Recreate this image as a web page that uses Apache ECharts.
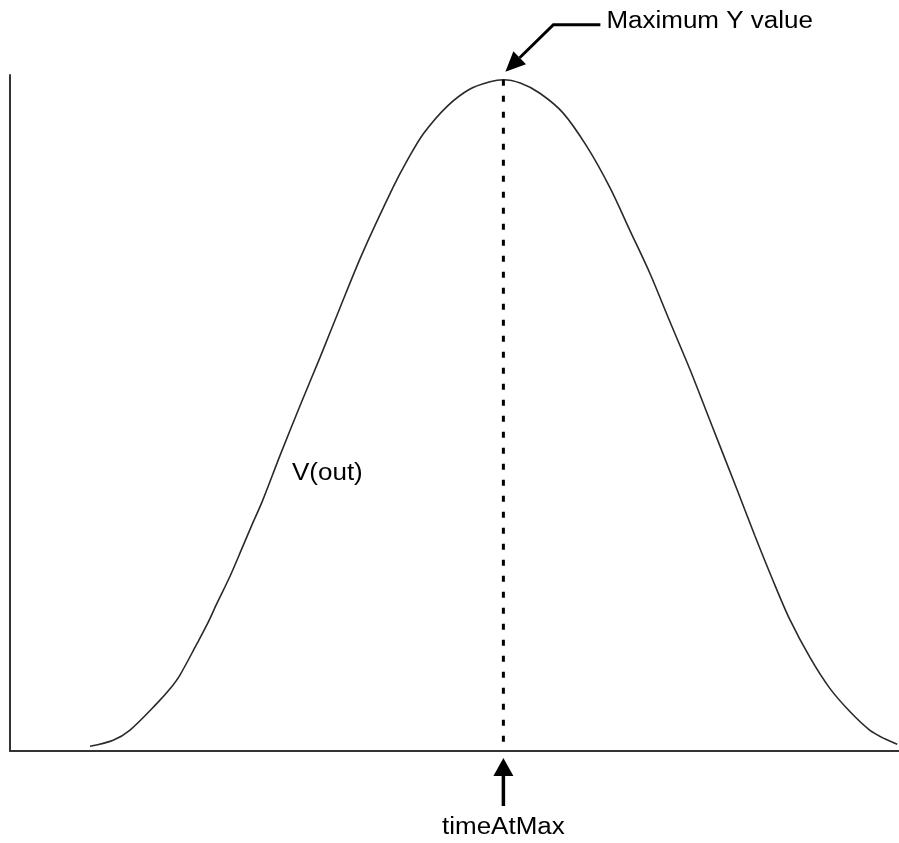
<!DOCTYPE html>
<html>
<head>
<meta charset="utf-8">
<title>V(out) timeAtMax</title>
<script src="https://cdn.jsdelivr.net/npm/echarts@6/dist/echarts.min.js"></script>
<style>
html, body { margin: 0; padding: 0; background: #fff; }
#chart { width: 899px; height: 843px; }
</style>
</head>
<body>
<div id="chart"></div>
<script>
// curve (time and V(out) in plot units 0..10)
var timeVals = [0.90, 1.16, 1.35, 1.65, 1.80, 1.91, 2.10, 2.22, 2.33, 2.48, 2.62, 2.73, 2.84, 3.04, 3.26,
  3.49, 3.71, 3.96, 4.31, 4.47, 4.65, 4.92, 5.17, 5.40, 5.55, 5.74, 5.96, 6.22, 6.49, 6.75,
  6.97, 7.20, 7.42, 7.65, 7.87, 8.18, 8.38, 8.58, 8.77, 9.00, 9.22, 9.45, 9.67, 9.84, 9.98];
var voutVals = [0.07, 0.16, 0.31, 0.70, 0.92, 1.12, 1.58, 1.88, 2.19, 2.60, 3.03, 3.37, 3.70, 4.38, 5.10,
  5.83, 6.55, 7.35, 8.34, 8.74, 9.13, 9.54, 9.79, 9.90, 9.93, 9.88, 9.73, 9.44, 8.94, 8.33,
  7.71, 7.06, 6.36, 5.64, 4.90, 3.86, 3.18, 2.53, 1.95, 1.38, 0.93, 0.58, 0.31, 0.18, 0.10];
var curveName = 'V(out)';
var maxLabel = 'Maximum Y value';
var timeLabel = 'timeAtMax';

var peakIdx = voutVals.indexOf(Math.max.apply(null, voutVals));
var peakTime = timeVals[peakIdx];
var peakV = voutVals[peakIdx];

var chart = echarts.init(document.getElementById('chart'));
var font = 'Liberation Sans, Arial, sans-serif';

chart.setOption({
  backgroundColor: '#fff',
  animation: false,
  grid: { left: 10, right: 0, top: 75, bottom: 92 },
  xAxis: {
    type: 'value', min: 0, max: 10,
    axisLine: { show: true, onZero: false, lineStyle: { color: '#333', width: 2 } },
    axisTick: { show: false }, axisLabel: { show: false }, splitLine: { show: false }
  },
  yAxis: {
    type: 'value', min: 0, max: 10,
    axisLine: { show: true, onZero: false, lineStyle: { color: '#333', width: 2 } },
    axisTick: { show: false }, axisLabel: { show: false }, splitLine: { show: false }
  },
  series: [
    {
      name: curveName,
      type: 'line',
      smooth: 0.3,
      showSymbol: false,
      lineStyle: { color: '#2a2a2a', width: 1.6 },
      data: timeVals.map(function (t, i) { return [t, voutVals[i]]; })
    },
    {
      name: 'peak',
      type: 'line',
      showSymbol: false,
      lineStyle: { color: '#000', width: 3, type: [6, 10] },
      data: [[peakTime, peakV], [peakTime, 0]]
    }
  ]
});

var peakPx = chart.convertToPixel({ gridIndex: 0 }, [peakTime, peakV]);
var basePx = chart.convertToPixel({ gridIndex: 0 }, [peakTime, 0]);

// top arrow: elbow line pointing down-left at the peak
var tip = [peakPx[0] + 2, peakPx[1] - 8];
var elbow = [tip[0] + 48, tip[1] - 47];
var dx = tip[0] - elbow[0], dy = tip[1] - elbow[1];
var len = Math.sqrt(dx * dx + dy * dy);
var ux = dx / len, uy = dy / len;
var headLen = 20, headHalf = 9;
var hb = [tip[0] - ux * headLen, tip[1] - uy * headLen];

function textStyle(txt, align) {
  return { text: txt, x: 0, y: 0, fill: '#000', font: '23px ' + font, textAlign: align, textVerticalAlign: 'middle' };
}

chart.setOption({
  graphic: [
    {
      type: 'polyline',
      shape: { points: [[elbow[0] + 47, elbow[1]], elbow, hb] },
      style: { stroke: '#000', lineWidth: 3, fill: null }
    },
    {
      type: 'polygon',
      shape: { points: [tip, [hb[0] - uy * headHalf, hb[1] + ux * headHalf], [hb[0] + uy * headHalf, hb[1] - ux * headHalf]] },
      style: { fill: '#000' }
    },
    {
      type: 'text', x: elbow[0] + 53, y: elbow[1] - 3, scaleX: 1.13,
      style: textStyle(maxLabel, 'left')
    },
    // bottom arrow pointing up at the axis
    {
      type: 'polygon',
      shape: { points: [[basePx[0], basePx[1] + 7], [basePx[0] - 10, basePx[1] + 25], [basePx[0] + 10, basePx[1] + 25]] },
      style: { fill: '#000' }
    },
    {
      type: 'line',
      shape: { x1: basePx[0], y1: basePx[1] + 22, x2: basePx[0], y2: basePx[1] + 55 },
      style: { stroke: '#000', lineWidth: 3.5 }
    },
    {
      type: 'text', x: basePx[0], y: basePx[1] + 77, scaleX: 1.13,
      style: textStyle(timeLabel, 'center')
    },
    {
      type: 'text', x: 292, y: 474, scaleX: 1.13,
      style: textStyle(curveName, 'left')
    }
  ]
});
</script>
</body>
</html>
